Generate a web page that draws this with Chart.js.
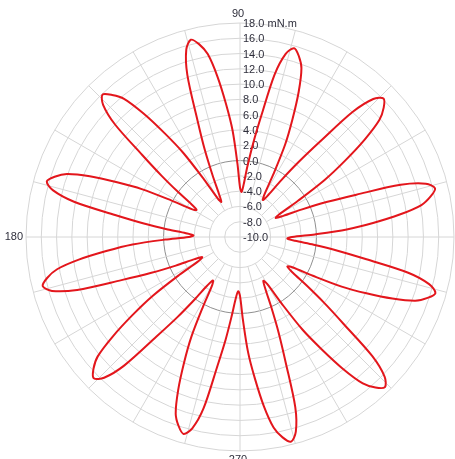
<!DOCTYPE html>
<html>
<head>
<meta charset="utf-8">
<style>
  html, body { margin: 0; padding: 0; background: #ffffff; overflow: hidden; }
  #wrap { width: 455px; height: 459px; }
</style>
<script src="https://cdn.jsdelivr.net/npm/chart.js@4/dist/chart.umd.min.js"></script>
</head>
<body>
<div id="wrap"><canvas id="polar" width="455" height="459"></canvas></div>
<script>
// Torque (mN.m) against rotor angle (degrees, counter-clockwise from 0 on the right).
const ANGLE_STEP = 2;
const angleDeg = Array.from({ length: 180 }, (_, i) => i * ANGLE_STEP);

const torque = [
  -3.2, -0.2, 4.0, 7.5, 11.1, 14.1, 15.5, 16.3, 15.3, 12.1, 6.2, 2.2, -1.1, -3.7,
  -4.7, -4.1, -1.0, 3.4, 7.0, 10.7, 13.8, 15.3, 16.1, 15.1, 12.0, 6.3, 2.4, -0.8, -3.3,
  -4.3, -3.7, -0.7, 3.5, 6.9, 10.5, 13.5, 14.9, 15.7, 14.7, 11.7, 6.2, 2.4, -0.7, -3.1,
  -4.1, -3.5, -0.4, 4.0, 7.5, 11.2, 14.3, 15.8, 16.6, 15.5, 12.3, 6.3, 2.3, -1.2, -3.7,
  -4.8, -4.2, -1.1, 3.3, 6.8, 10.5, 13.6, 15.0, 15.9, 14.9, 12.0, 6.7, 3.0, 0.0, -2.3,
  -3.3, -2.7, 0.2, 4.3, 7.6, 11.2, 14.1, 15.5, 16.3, 15.2, 12.2, 6.6, 2.7, -0.5, -2.9,
  -3.9, -3.3, -0.2, 4.1, 7.6, 11.3, 14.3, 15.8, 16.6, 15.6, 12.4, 6.5, 2.5, -0.8, -3.4,
  -4.4, -3.8, -0.6, 3.8, 7.4, 11.1, 14.3, 15.8, 16.6, 15.6, 12.6, 7.0, 3.3, 0.1, -2.3,
  -3.3, -2.7, 0.3, 4.5, 8.0, 11.6, 14.6, 16.0, 16.8, 15.8, 12.9, 7.3, 3.6, 0.4, -1.9,
  -2.9, -2.3, 0.8, 5.1, 8.6, 12.3, 15.3, 16.8, 17.6, 16.5, 13.4, 7.5, 3.5, 0.1, -2.4,
  -3.5, -2.9, 0.2, 4.6, 8.1, 11.9, 15.0, 16.5, 17.3, 16.3, 13.3, 7.7, 3.9, 0.7, -1.7,
  -2.7, -2.1, 0.8, 4.8, 8.1, 11.5, 14.4, 15.8, 16.6, 15.5, 12.5, 6.8, 2.9, -0.3, -2.8,
  -3.8
];

const radialTicks = [-10, -8, -6, -4, -2, 0, 2, 4, 6, 8, 10, 12, 14, 16, 18];
const unitLabel = 'mN.m';
const angleLabels = ['90', '180', '270'];
const spokeStepDeg = 15;

// Radar scales run clockwise, so list the angles counter-clockwise starting at 0.
const order = angleDeg.map((_, i) => (angleDeg.length - i) % angleDeg.length);
const chartLabels = order.map(j => angleDeg[j]);
const chartData = order.map(j => torque[j]);

const GRID = '#d6d6d6';
const GRID_ZERO = '#8f8f8f';
const TEXT = '#2f2f3c';
const FONT = '11px "Liberation Sans", Arial, sans-serif';

const rad = d => d * Math.PI / 180;

const polarDecor = {
  id: 'polarDecor',
  beforeDatasetsDraw(chart) {
    const s = chart.scales.r;
    const ctx = chart.ctx;
    const outer = s.getDistanceFromCenterForValue(radialTicks[radialTicks.length - 1]);
    const inner = s.getDistanceFromCenterForValue(-6);
    ctx.save();
    ctx.strokeStyle = GRID;
    ctx.lineWidth = 1;
    for (let a = 0; a < 360; a += spokeStepDeg) {
      const r0 = (a % 90 === 0) ? 0 : inner;
      const p0 = s.getPointPosition(0, r0, -rad(a));
      const p1 = s.getPointPosition(0, outer, -rad(a));
      ctx.beginPath();
      ctx.moveTo(p0.x, p0.y);
      ctx.lineTo(p1.x, p1.y);
      ctx.stroke();
    }
    // radial value labels up the 90 degree axis
    ctx.font = FONT;
    ctx.fillStyle = TEXT;
    ctx.textAlign = 'left';
    ctx.textBaseline = 'middle';
    radialTicks.forEach((v, i) => {
      const d = s.getDistanceFromCenterForValue(v);
      let txt = v.toFixed(1);
      if (i === radialTicks.length - 1) txt += ' ' + unitLabel;
      ctx.fillText(txt, s.xCenter + 3, s.yCenter - d + 1);
    });
    // angle labels
    const p90 = s.getPointPosition(0, outer + 9, -rad(90));
    ctx.textAlign = 'center';
    ctx.fillText(angleLabels[0], p90.x - 2, p90.y);
    const p180 = s.getPointPosition(0, outer + 3, -rad(180));
    ctx.textAlign = 'right';
    ctx.fillText(angleLabels[1], p180.x, p180.y);
    const p270 = s.getPointPosition(0, outer + 9, -rad(270));
    ctx.textAlign = 'center';
    ctx.fillText(angleLabels[2], p270.x - 2, p270.y);
    ctx.restore();
  }
};

new Chart(document.getElementById('polar'), {
  type: 'radar',
  data: {
    labels: chartLabels,
    datasets: [{
      data: chartData,
      borderColor: '#e3161c',
      borderWidth: 2,
      pointRadius: 0,
      pointHoverRadius: 0,
      fill: false,
      tension: 0.3
    }]
  },
  options: {
    responsive: false,
    animation: false,
    devicePixelRatio: 1,
    layout: { padding: { left: 26, right: -4, top: 21, bottom: 6 } },
    plugins: { legend: { display: false }, tooltip: { enabled: false } },
    scales: {
      r: {
        min: -10,
        max: 18,
        startAngle: 90,
        ticks: { display: false, stepSize: 2 },
        pointLabels: { display: false },
        angleLines: { display: false },
        grid: {
          circular: true,
          lineWidth: 1,
          color: ctx => (ctx.tick && ctx.tick.value === 0) ? GRID_ZERO : GRID
        }
      }
    }
  },
  plugins: [polarDecor]
});
</script>
</body>
</html>
